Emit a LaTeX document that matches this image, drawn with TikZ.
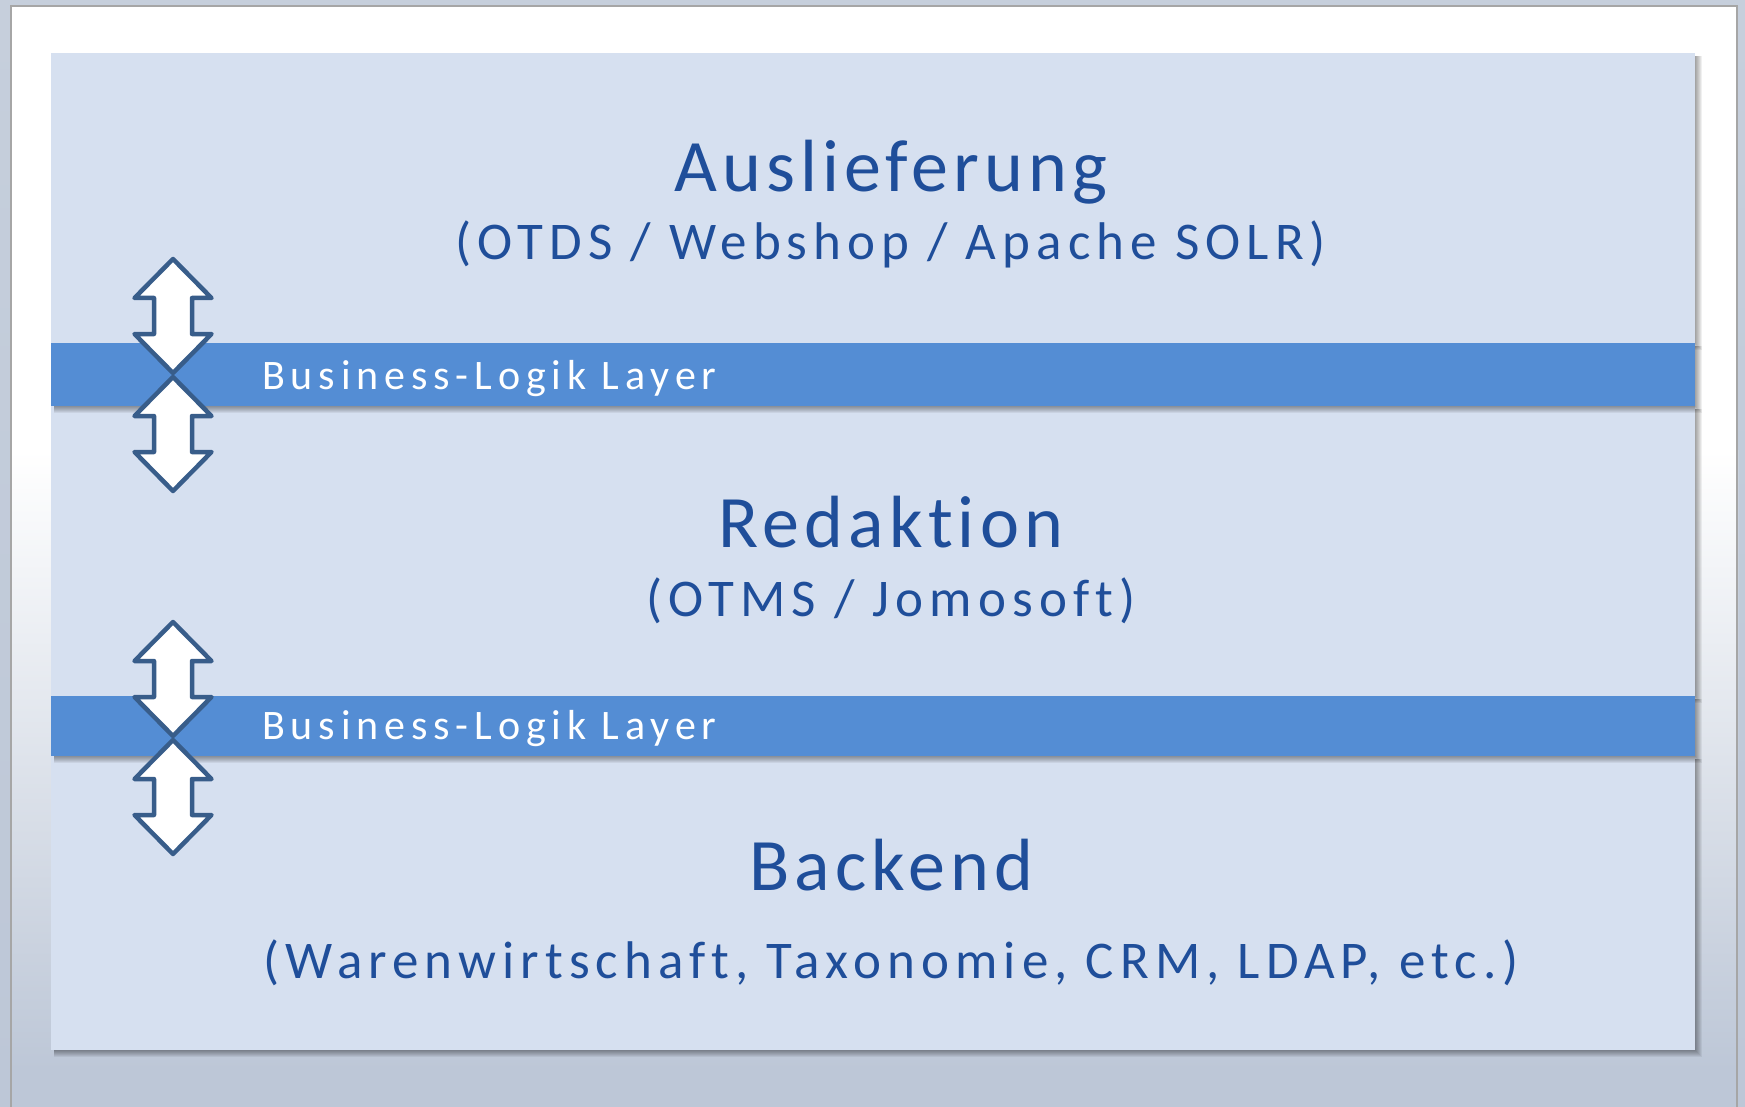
\documentclass[tikz,border=0pt]{standalone}
\usepackage{fontspec}
\newfontfamily\headfont{Carlito}[LetterSpace=7,Ligatures=NoCommon]
\newfontfamily\subfont{Carlito}[LetterSpace=11.5,Ligatures=NoCommon]
\newfontfamily\bandfont{Carlito}[LetterSpace=14,Ligatures=NoCommon]
\definecolor{panelfill}{HTML}{D6E0F0}
\definecolor{bandfill}{HTML}{548DD4}
\definecolor{txtblue}{HTML}{1F4E9A}
\definecolor{arrowline}{HTML}{385D8A}
\definecolor{bgtop}{HTML}{C6CFDC}
\definecolor{bgbot}{HTML}{BDC7D7}
\definecolor{pageborder}{HTML}{A6A6A6}
\tikzset{
  panel/.style={fill=panelfill},
  band/.style={fill=bandfill},
  heading/.style={text=txtblue, font=\headfont\fontsize{74}{80}\selectfont, anchor=base, inner sep=0pt},
  subline/.style={text=txtblue, font=\subfont\fontsize{53}{60}\selectfont, anchor=base, inner sep=0pt},
  bandtext/.style={text=white, font=\bandfont\fontsize{42}{48}\selectfont, anchor=base west, inner sep=0pt},
  updown/.style={draw=arrowline, fill=white, line width=4.5pt, line join=round},
}
\newcommand{\softshadow}[4]{%
  \foreach \s in {1,...,7}{%
    \fill[black,opacity=0.06] (#1+3,#2+3) rectangle (#3+\s,#4+\s);
  }}
\newcommand{\myudarrow}[2]{% center x, top y ; total height 114
  \path[updown] (#1,#2) -- (#1+38.5,#2+39) -- (#1+19,#2+39) -- (#1+19,#2+75)
    -- (#1+38.5,#2+75) -- (#1,#2+114) -- (#1-38.5,#2+75) -- (#1-19,#2+75)
    -- (#1-19,#2+39) -- (#1-38.5,#2+39) -- cycle;}
\begin{document}
\begin{tikzpicture}[x=1pt,y=-1pt]
  \useasboundingbox (0,0) rectangle (1745,1107);
  % outer background
  \fill[top color=bgtop, middle color=white, bottom color=bgbot] (0,0) rectangle (1745,1107);
  % page
  \fill[white] (10,5) rectangle (1738,1107);
  \fill[top color=white, bottom color=bgbot] (10,450) rectangle (1738,1070);
  \fill[bgbot] (10,1069) rectangle (1738,1107);
  \draw[pageborder, line width=2pt] (11,1107) -- (11,6) -- (1737,6) -- (1737,1107);
  % panels
  \softshadow{51}{53}{1695}{343}
  \fill[panel] (51,53) rectangle (1695,343);
  \softshadow{51}{406}{1695}{696}
  \fill[panel] (51,406) rectangle (1695,696);
  \softshadow{51}{756}{1695}{1050}
  \fill[panel] (51,756) rectangle (1695,1050);
  % bands
  \softshadow{51}{343}{1695}{406}
  \fill[band] (51,343) rectangle (1695,406);
  \softshadow{51}{696}{1695}{756}
  \fill[band] (51,696) rectangle (1695,756);
  % texts
  \node[heading] (ausl) at (891,192) {Auslieferung};
  \node[subline] (auslsub) at (891,260) {(OTDS / Webshop / Apache SOLR)};
  \node[heading] (red) at (891,547) {Redaktion};
  \node[subline] (redsub) at (891,616) {(OTMS / Jomosoft)};
  \node[heading] (back) at (891,890) {Backend};
  \node[subline] (backsub) at (891,978) {(Warenwirtschaft, Taxonomie, CRM, LDAP, etc.)};
  \node[bandtext] (bl1) at (262,389) {Business-Logik Layer};
  \node[bandtext] (bl2) at (262,739) {Business-Logik Layer};
  % arrows
  \myudarrow{173}{259}
  \myudarrow{173}{377}
  \myudarrow{173}{622}
  \myudarrow{173}{740}
\end{tikzpicture}
\end{document}
